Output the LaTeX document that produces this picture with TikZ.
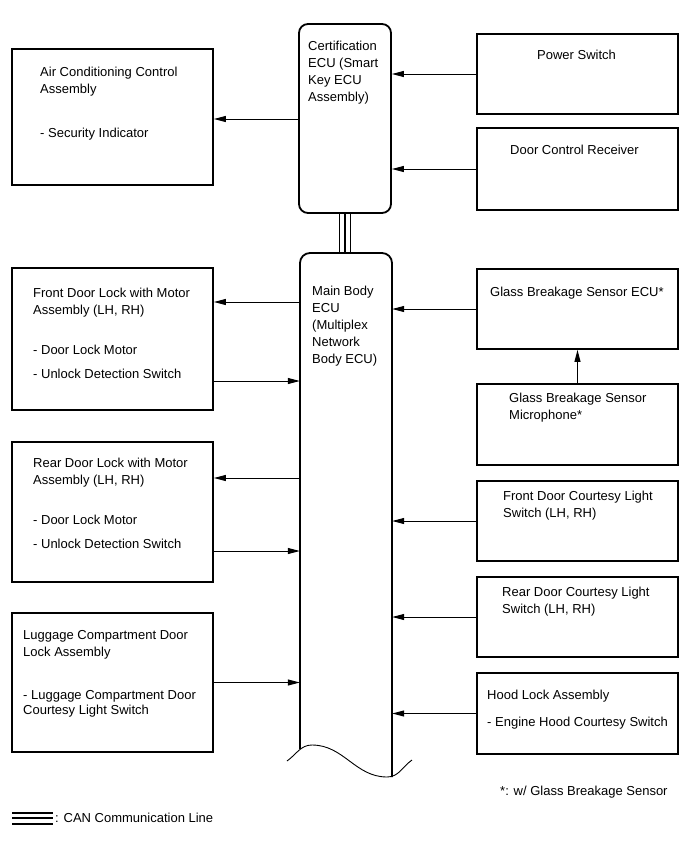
\documentclass[tikz,border=0pt]{standalone}
\usepackage{fontspec}
\setmainfont{Liberation Sans}
\usetikzlibrary{arrows.meta,fit}
\begin{document}
\begin{tikzpicture}[x=1pt,y=-1pt,
  box/.style={draw,line width=1.8pt,inner sep=0pt},
  ecu/.style={draw,line width=1.8pt,inner sep=0pt,rounded corners=9pt},
  txt/.style={anchor=north west,inner sep=0pt,align=left,font=\fontsize{13}{17}\selectfont},
  arr/.style={line width=1pt,-{Triangle[length=12pt,width=6pt]}},
  can/.style={line width=1.6pt}
]
\useasboundingbox (0,0) rectangle (690,855);

% ECUs
\node[ecu,fit={(299,24) (391,213)}] (cert) {};
\node[draw=none,inner sep=0pt,fit={(300,253) (392,776)}] (main) {};
\draw[line width=1.8pt,rounded corners=10pt] (300,749) -- (300,253) -- (392,253) -- (392,777);
\draw[line width=0.9pt] (287,761) to[out=35,in=180] (312,745) to[out=0,in=180] (387,777) to[out=0,in=215] (412,760);
\node[txt] (certT) at (308,38.5) {\rule{0pt}{12pt}Certification\\ECU (Smart\\Key ECU\\Assembly)};
\node[txt] (mainT) at (312,283.5) {\rule{0pt}{12pt}Main Body\\ECU\\(Multiplex\\Network\\Body ECU)};

% CAN
\foreach \dx in {-5.5,0,5.5}
  \draw[can] ([xshift=\dx pt]cert.south) -- ([xshift=\dx pt]cert.south |- main.north);

% Left boxes
\node[box,fit={(12,49) (213,185)}] (ac) {};
\node[txt] (acT) at (40,64.5) {\rule{0pt}{12pt}Air Conditioning Control\\Assembly\\[27pt]- Security Indicator};
\node[box,fit={(12,268) (213,410)}] (fdl) {};
\node[txt] (fdlT) at (33,285.5) {\rule{0pt}{12pt}Front Door Lock with Motor\\Assembly (LH, RH)\\[23pt]- Door Lock Motor\\[7pt]- Unlock Detection Switch};
\node[box,fit={(12,442) (213,582)}] (rdl) {};
\node[txt] (rdlT) at (33,455.5) {\rule{0pt}{12pt}Rear Door Lock with Motor\\Assembly (LH, RH)\\[23pt]- Door Lock Motor\\[7pt]- Unlock Detection Switch};
\node[box,fit={(12,613) (213,752)}] (lug) {};
\node[txt] (lugT) at (23,627.5) {\rule{0pt}{12pt}Luggage Compartment Door\\Lock Assembly\\[26pt]- Luggage Compartment Door\\[-2pt]Courtesy Light Switch};

% Right boxes
\node[box,fit={(477,34) (678,114)}] (ps) {};
\node[txt] (psT) at (537,47.5) {\rule{0pt}{12pt}Power Switch};
\node[box,fit={(477,128) (678,210)}] (dcr) {};
\node[txt] (dcrT) at (510,142.5) {\rule{0pt}{12pt}Door Control Receiver};
\node[box,fit={(477,269) (678,349)}] (gbs) {};
\node[txt] (gbsT) at (490,284.5) {\rule{0pt}{12pt}Glass Breakage Sensor ECU*};
\node[box,fit={(477,384) (678,465)}] (mic) {};
\node[txt] (micT) at (509,390.5) {\rule{0pt}{12pt}Glass Breakage Sensor\\Microphone*};
\node[box,fit={(477,481) (678,561)}] (fcl) {};
\node[txt] (fclT) at (503,488.5) {\rule{0pt}{12pt}Front Door Courtesy Light\\Switch (LH, RH)};
\node[box,fit={(477,577) (678,657)}] (rcl) {};
\node[txt] (rclT) at (502,584.5) {\rule{0pt}{12pt}Rear Door Courtesy Light\\Switch (LH, RH)};
\node[box,fit={(477,673) (678,754)}] (hood) {};
\node[txt] (hoodT) at (487,687.5) {\rule{0pt}{12pt}Hood Lock Assembly\\[10pt]- Engine Hood Courtesy Switch};

% Arrows into ECUs from right
\draw[arr] (ps.west) -- (ps.west -| cert.east);
\draw[arr] (dcr.west) -- (dcr.west -| cert.east);
\draw[arr] (gbs.west) -- (gbs.west -| main.east);
\draw[arr] (fcl.west) -- (fcl.west -| main.east);
\draw[arr] (rcl.west) -- (rcl.west -| main.east);
\draw[arr] (hood.west) -- (hood.west -| main.east);
\draw[arr] (mic.north) -- (gbs.south);

% Left arrows
\coordinate (acA) at (ac.east |- 0,119);
\draw[arr] (cert.west |- acA) -- (acA);
\coordinate (fdlA) at (fdl.east |- 0,302);
\coordinate (fdlB) at (fdl.east |- 0,381);
\draw[arr] (main.west |- fdlA) -- (fdlA);
\draw[arr] (fdlB) -- (main.west |- fdlB);
\coordinate (rdlA) at (rdl.east |- 0,478);
\coordinate (rdlB) at (rdl.east |- 0,551);
\draw[arr] (main.west |- rdlA) -- (rdlA);
\draw[arr] (rdlB) -- (main.west |- rdlB);
\draw[arr] (lug.east) -- (lug.east -| main.west);

% Footnote and legend
\node[txt] (note) at (500,783.5) {\rule{0pt}{12pt}*: w/ Glass Breakage Sensor};
\coordinate (lg1) at (12,812.7);
\coordinate (lg2) at (53,812.7);
\foreach \dy in {0,5.5,11}
  \draw[can] ([yshift=-\dy pt]lg1) -- ([yshift=-\dy pt]lg2);
\node[txt] (lgT) at (55,810.5) {\rule{0pt}{12pt}: CAN Communication Line};
\end{tikzpicture}
\end{document}
